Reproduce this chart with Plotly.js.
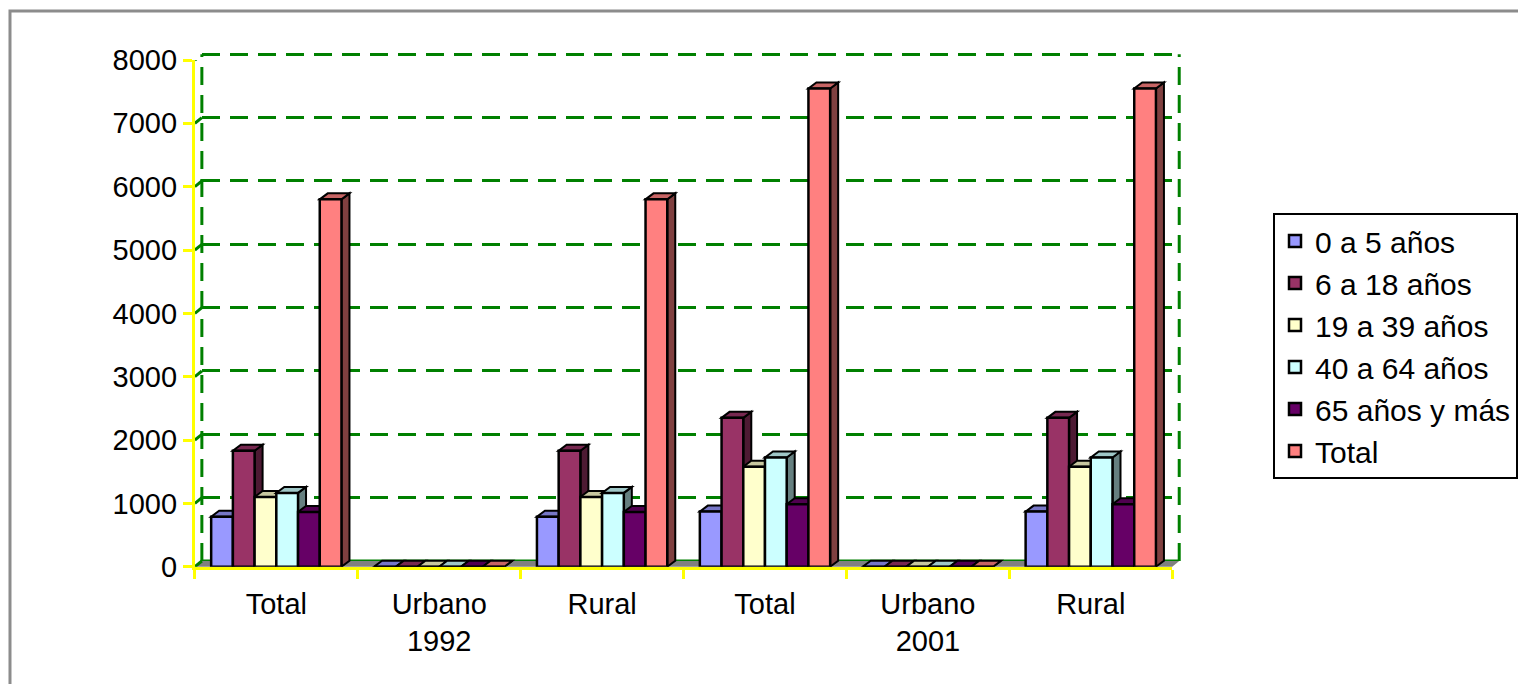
<!DOCTYPE html>
<html><head><meta charset="utf-8">
<script src="https://cdn.plot.ly/plotly-3.0.1.min.js"></script>
<style>html,body{margin:0;padding:0;background:#fff}#chart{width:1518px;height:684px}</style>
</head><body><div id="chart"></div>
<script>
// ---- data ----
const categories = ['Total', 'Urbano<br>1992', 'Rural', 'Total', 'Urbano<br>2001', 'Rural'];
const seriesNames = ['0 a 5 años', '6 a 18 años', '19 a 39 años', '40 a 64 años', '65 años y más', 'Total'];
const age0to5   = [790, 0, 790, 870, 0, 870];
const age6to18  = [1830, 0, 1830, 2350, 0, 2350];
const age19to39 = [1100, 0, 1100, 1580, 0, 1580];
const age40to64 = [1165, 0, 1165, 1725, 0, 1725];
const age65plus = [865, 0, 865, 985, 0, 985];
const totalVals = [5800, 0, 5800, 7550, 0, 7550];
const yTickVals = [0, 1000, 2000, 3000, 4000, 5000, 6000, 7000, 8000];

// ---- style ----
const seriesColors = ['#9999ff', '#993366', '#ffffcc', '#ccffff', '#660066', '#ff8080'];
const allSeries = [age0to5, age6to18, age19to39, age40to64, age65plus, totalVals];
const W = 1518, H = 684;
const FONT = 'Liberation Sans, Arial, sans-serif';
// front plane (px)
const fx0 = 195, fx1 = 1173, fyBottom = 566.7, fyTop = 60;
// back wall (px)
const bx0 = 202, bx1 = 1180, byBottom = 561, byTop = 54.3;
const yMax = 8000, yPad = 150;
const nCat = categories.length, nSer = seriesNames.length;
const groupW = 0.8, barW = groupW / nSer;
const pxPerCat = (fx1 - fx0) / nCat;
const pxPerUnit = (fyBottom - fyTop) / yMax;
const dx = 8, dy = 6;

function shade(hex, f) {
  const n = parseInt(hex.slice(1), 16);
  const r = Math.round(((n >> 16) & 255) * f), g = Math.round(((n >> 8) & 255) * f), b = Math.round((n & 255) * f);
  return 'rgb(' + r + ',' + g + ',' + b + ')';
}

const xIdx = categories.map((c, i) => i);
const traces = allSeries.map((vals, s) => ({
  type: 'bar', name: seriesNames[s], x: xIdx, y: vals,
  xaxis: 'x2', yaxis: 'y2',
  width: barW, offset: -groupW / 2 + s * barW,
  marker: { color: seriesColors[s], line: { color: '#000', width: 2.5 } },
  legendgroup: 'g' + s, hoverinfo: 'name+y'
}));

const sideShapes = [], topShapes = [];
const wpx = barW * pxPerCat;
allSeries.forEach((vals, s) => {
  vals.forEach((v, c) => {
    const xr = c - groupW / 2 + (s + 1) * barW;
    const h = v * pxPerUnit;
    const base = { type: 'path', xref: 'x2', yref: 'y2', xsizemode: 'pixel', ysizemode: 'pixel',
      xanchor: xr, yanchor: v, layer: 'between', line: { color: '#000', width: 2 } };
    sideShapes.push(Object.assign({}, base, {
      path: `M 0,0 L ${dx},${dy} L ${dx},${dy - h} L 0,${-h} Z`,
      fillcolor: shade(seriesColors[s], 0.5) }));
    topShapes.push(Object.assign({}, base, {
      path: `M ${-wpx},0 L 0,0 L ${dx},${dy} L ${-wpx + dx},${dy} Z`,
      fillcolor: shade(seriesColors[s], 0.78) }));
  });
});

const px = x => x / W, py = y => 1 - y / H;
const decoShapes = [
  // outer frame
  { type: 'rect', xref: 'paper', yref: 'paper', x0: px(10), x1: 1.05, y0: -0.05, y1: py(11),
    line: { color: '#8c8c8c', width: 3 }, layer: 'below' },
  // floor
  { type: 'path', xref: 'paper', yref: 'paper', layer: 'below',
    path: `M ${px(fx0)},${py(fyBottom)} L ${px(fx1)},${py(fyBottom)} L ${px(bx1)},${py(byBottom)} L ${px(bx0)},${py(byBottom)} Z`,
    fillcolor: '#808080', line: { width: 0 } },
  // back floor edge
  { type: 'line', xref: 'x domain', yref: 'y', x0: 0, x1: 1, y0: 0, y1: 0, layer: 'below',
    line: { color: '#008000', width: 3 } },
  // wall verticals
  { type: 'line', xref: 'x domain', yref: 'y', x0: 0, x1: 0, y0: 0, y1: yMax, layer: 'below',
    line: { color: '#008000', width: 3, dash: '18px,10px' } },
  { type: 'line', xref: 'x domain', yref: 'y', x0: 1, x1: 1, y0: 0, y1: yMax, layer: 'below',
    line: { color: '#008000', width: 3, dash: '18px,10px' } }
];
// left wall diagonals at each tick
yTickVals.forEach(v => {
  decoShapes.push({ type: 'path', xref: 'x2', yref: 'y2', xsizemode: 'pixel', ysizemode: 'pixel',
    xanchor: -0.5, yanchor: v, layer: 'between', path: `M 0,0 L ${bx0 - fx0},${fyBottom - byBottom}`,
    line: { color: '#008000', width: 3 } });
});

const layout = {
  width: W, height: H,
  margin: { l: 0, r: 0, t: 0, b: 0 },
  paper_bgcolor: '#fff', plot_bgcolor: 'rgba(0,0,0,0)',
  showlegend: true, barmode: 'overlay',
  font: { family: FONT, color: '#000', size: 29 },
  xaxis: { domain: [px(bx0), px(bx1)], range: [0, 1], anchor: 'y', showgrid: false, zeroline: false,
    showticklabels: false, ticks: '', showline: false, fixedrange: true },
  yaxis: { domain: [py(byBottom), py(byTop - yPad * pxPerUnit)], range: [0, yMax + yPad], anchor: 'x',
    tickmode: 'array', tickvals: yTickVals,
    showticklabels: false, ticks: '', showline: false, zeroline: false,
    showgrid: true, gridcolor: '#008000', gridwidth: 3, griddash: '18px,10px', fixedrange: true },
  xaxis2: { domain: [px(fx0), px(fx1)], range: [-0.5, nCat - 0.5], anchor: 'y2',
    tickmode: 'array', tickvals: xIdx, ticktext: categories,
    ticks: 'outside', ticklen: 9, tickcolor: 'rgba(0,0,0,0)',
    minor: { tickmode: 'linear', tick0: -0.5, dtick: 1, ticks: 'outside', ticklen: 9, tickwidth: 3, tickcolor: '#ffff00', showgrid: false },
    showline: true, linecolor: '#ffff00', linewidth: 3, showgrid: false, zeroline: false,
    tickfont: { family: FONT, size: 29, color: '#000' }, fixedrange: true },
  yaxis2: { domain: [py(fyBottom), py(fyTop)], range: [0, yMax], anchor: 'x2',
    tickmode: 'array', tickvals: yTickVals,
    ticks: 'outside', ticklen: 9, tickwidth: 3, tickcolor: '#ffff00',
    showline: true, linecolor: '#ffff00', linewidth: 3, showgrid: false, zeroline: false,
    tickfont: { family: FONT, size: 29, color: '#000' }, fixedrange: true },
  legend: { x: px(1274), y: py(213), xanchor: 'left', yanchor: 'top',
    bgcolor: '#fff', bordercolor: '#000', borderwidth: 2,
    font: { family: FONT, size: 30, color: '#000' }, tracegroupgap: 14, traceorder: 'normal' },
  shapes: decoShapes.concat(sideShapes, topShapes)
};

Plotly.newPlot('chart', traces, layout, { displayModeBar: false, staticPlot: true });
</script>
</body></html>
